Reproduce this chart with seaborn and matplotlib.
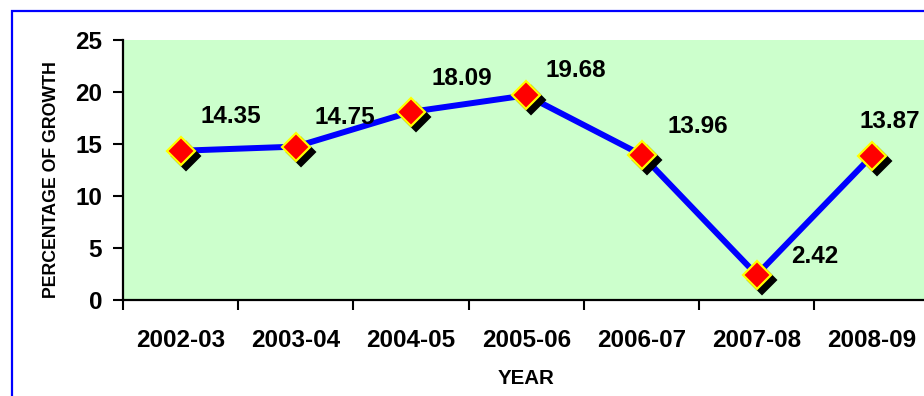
import matplotlib
matplotlib.use("Agg")
import matplotlib.pyplot as plt
import seaborn as sns
import pandas as pd
import numpy as np
from matplotlib.transforms import offset_copy
from matplotlib.patches import Rectangle

# ---- data ----
years = ["2002-03", "2003-04", "2004-05", "2005-06", "2006-07", "2007-08", "2008-09"]
growth = [14.35, 14.75, 18.09, 19.68, 13.96, 2.42, 13.87]
y_ticks = [0, 5, 10, 15, 20, 25]

# label offsets in pixels (right, up)
label_offsets = [(50, 34), (49, 29), (51, 33), (50, 25), (56, 28), (58, 18), (18, 34)]

sns.set_theme(style="white")
plt.rcParams['font.family'] = ['Liberation Sans', 'DejaVu Sans']
plt.rcParams['font.weight'] = 'bold'

W, H = 924, 396
fig = plt.figure(figsize=(W / 100, H / 100), dpi=100)
ax = fig.add_axes([123 / W, 1 - 300 / H, 806.6 / W, 260 / H])
ax.set_facecolor('#CCFFCC')

df = pd.DataFrame({'year': years, 'growth': growth})
df['x'] = np.arange(len(years))

sns.lineplot(data=df, x='x', y='growth', ax=ax, color='#0000FF', lw=4.3, zorder=2)

shadow = offset_copy(ax.transData, fig=fig, x=5, y=-5, units='dots')
ax.plot(df['x'], df['growth'], linestyle='none', marker='D', markersize=14.5,
        color='black', markeredgecolor='black', markeredgewidth=1.5,
        transform=shadow, zorder=3, clip_on=False)
ax.plot(df['x'], df['growth'], linestyle='none', marker='D', markersize=14.5,
        markerfacecolor='#FF0000', markeredgecolor='#FFFF00', markeredgewidth=1.6,
        zorder=4, clip_on=False)

for xi, v, (dx, dy) in zip(df['x'], growth, label_offsets):
    ax.annotate(f"{v:.2f}", (xi, v), xytext=(dx, dy), textcoords='offset pixels',
                ha='center', va='center', fontsize=17.5, fontweight='bold', color='black',
                zorder=5)

ax.set_xlim(-0.5, 6.5)
ax.set_ylim(0, 25)
ax.set_yticks(y_ticks)
ax.set_yticklabels([str(t) for t in y_ticks])
ax.set_xticks(np.arange(-0.5, 7.0, 1.0))
ax.set_xticklabels([])
ax.set_xticks(np.arange(len(years)), minor=True)
ax.set_xticklabels(years, minor=True)

ax.tick_params(axis='x', which='major', bottom=True, length=7, width=1.5, color='black', direction='out')
ax.tick_params(axis='x', which='minor', bottom=True, length=0, pad=21, labelsize=17.5, labelcolor='black')
ax.tick_params(axis='y', which='major', left=True, length=7, width=1.5, color='black', direction='out',
               pad=8, labelsize=17.5, labelcolor='black')
for lab in ax.get_xticklabels(minor=True) + ax.get_yticklabels():
    lab.set_fontweight('bold')

for s in ['top', 'right']:
    ax.spines[s].set_visible(False)
for s in ['left', 'bottom']:
    ax.spines[s].set_visible(True)
    ax.spines[s].set_color('black')
    ax.spines[s].set_linewidth(1.6)

ax.set_xlabel('YEAR', fontsize=14.8, fontweight='bold', color='black')
ax.xaxis.label.set_va('center')
ax.xaxis.set_label_coords(0.5, (300 - 379) / 260)
ax.set_ylabel('PERCENTAGE OF GROWTH', fontsize=12.8, fontweight='bold', color='black')
ax.yaxis.label.set_va('center')
ax.yaxis.set_label_coords((52 - 123) / 806.6, (300 - 180) / 260)

fig.add_artist(Rectangle((12 / W, -0.1), 1.2, (H - 11) / H + 0.1, transform=fig.transFigure,
                         fill=False, edgecolor='#0000FF', linewidth=1.6, clip_on=False))

fig.savefig('out.png', dpi=100)
